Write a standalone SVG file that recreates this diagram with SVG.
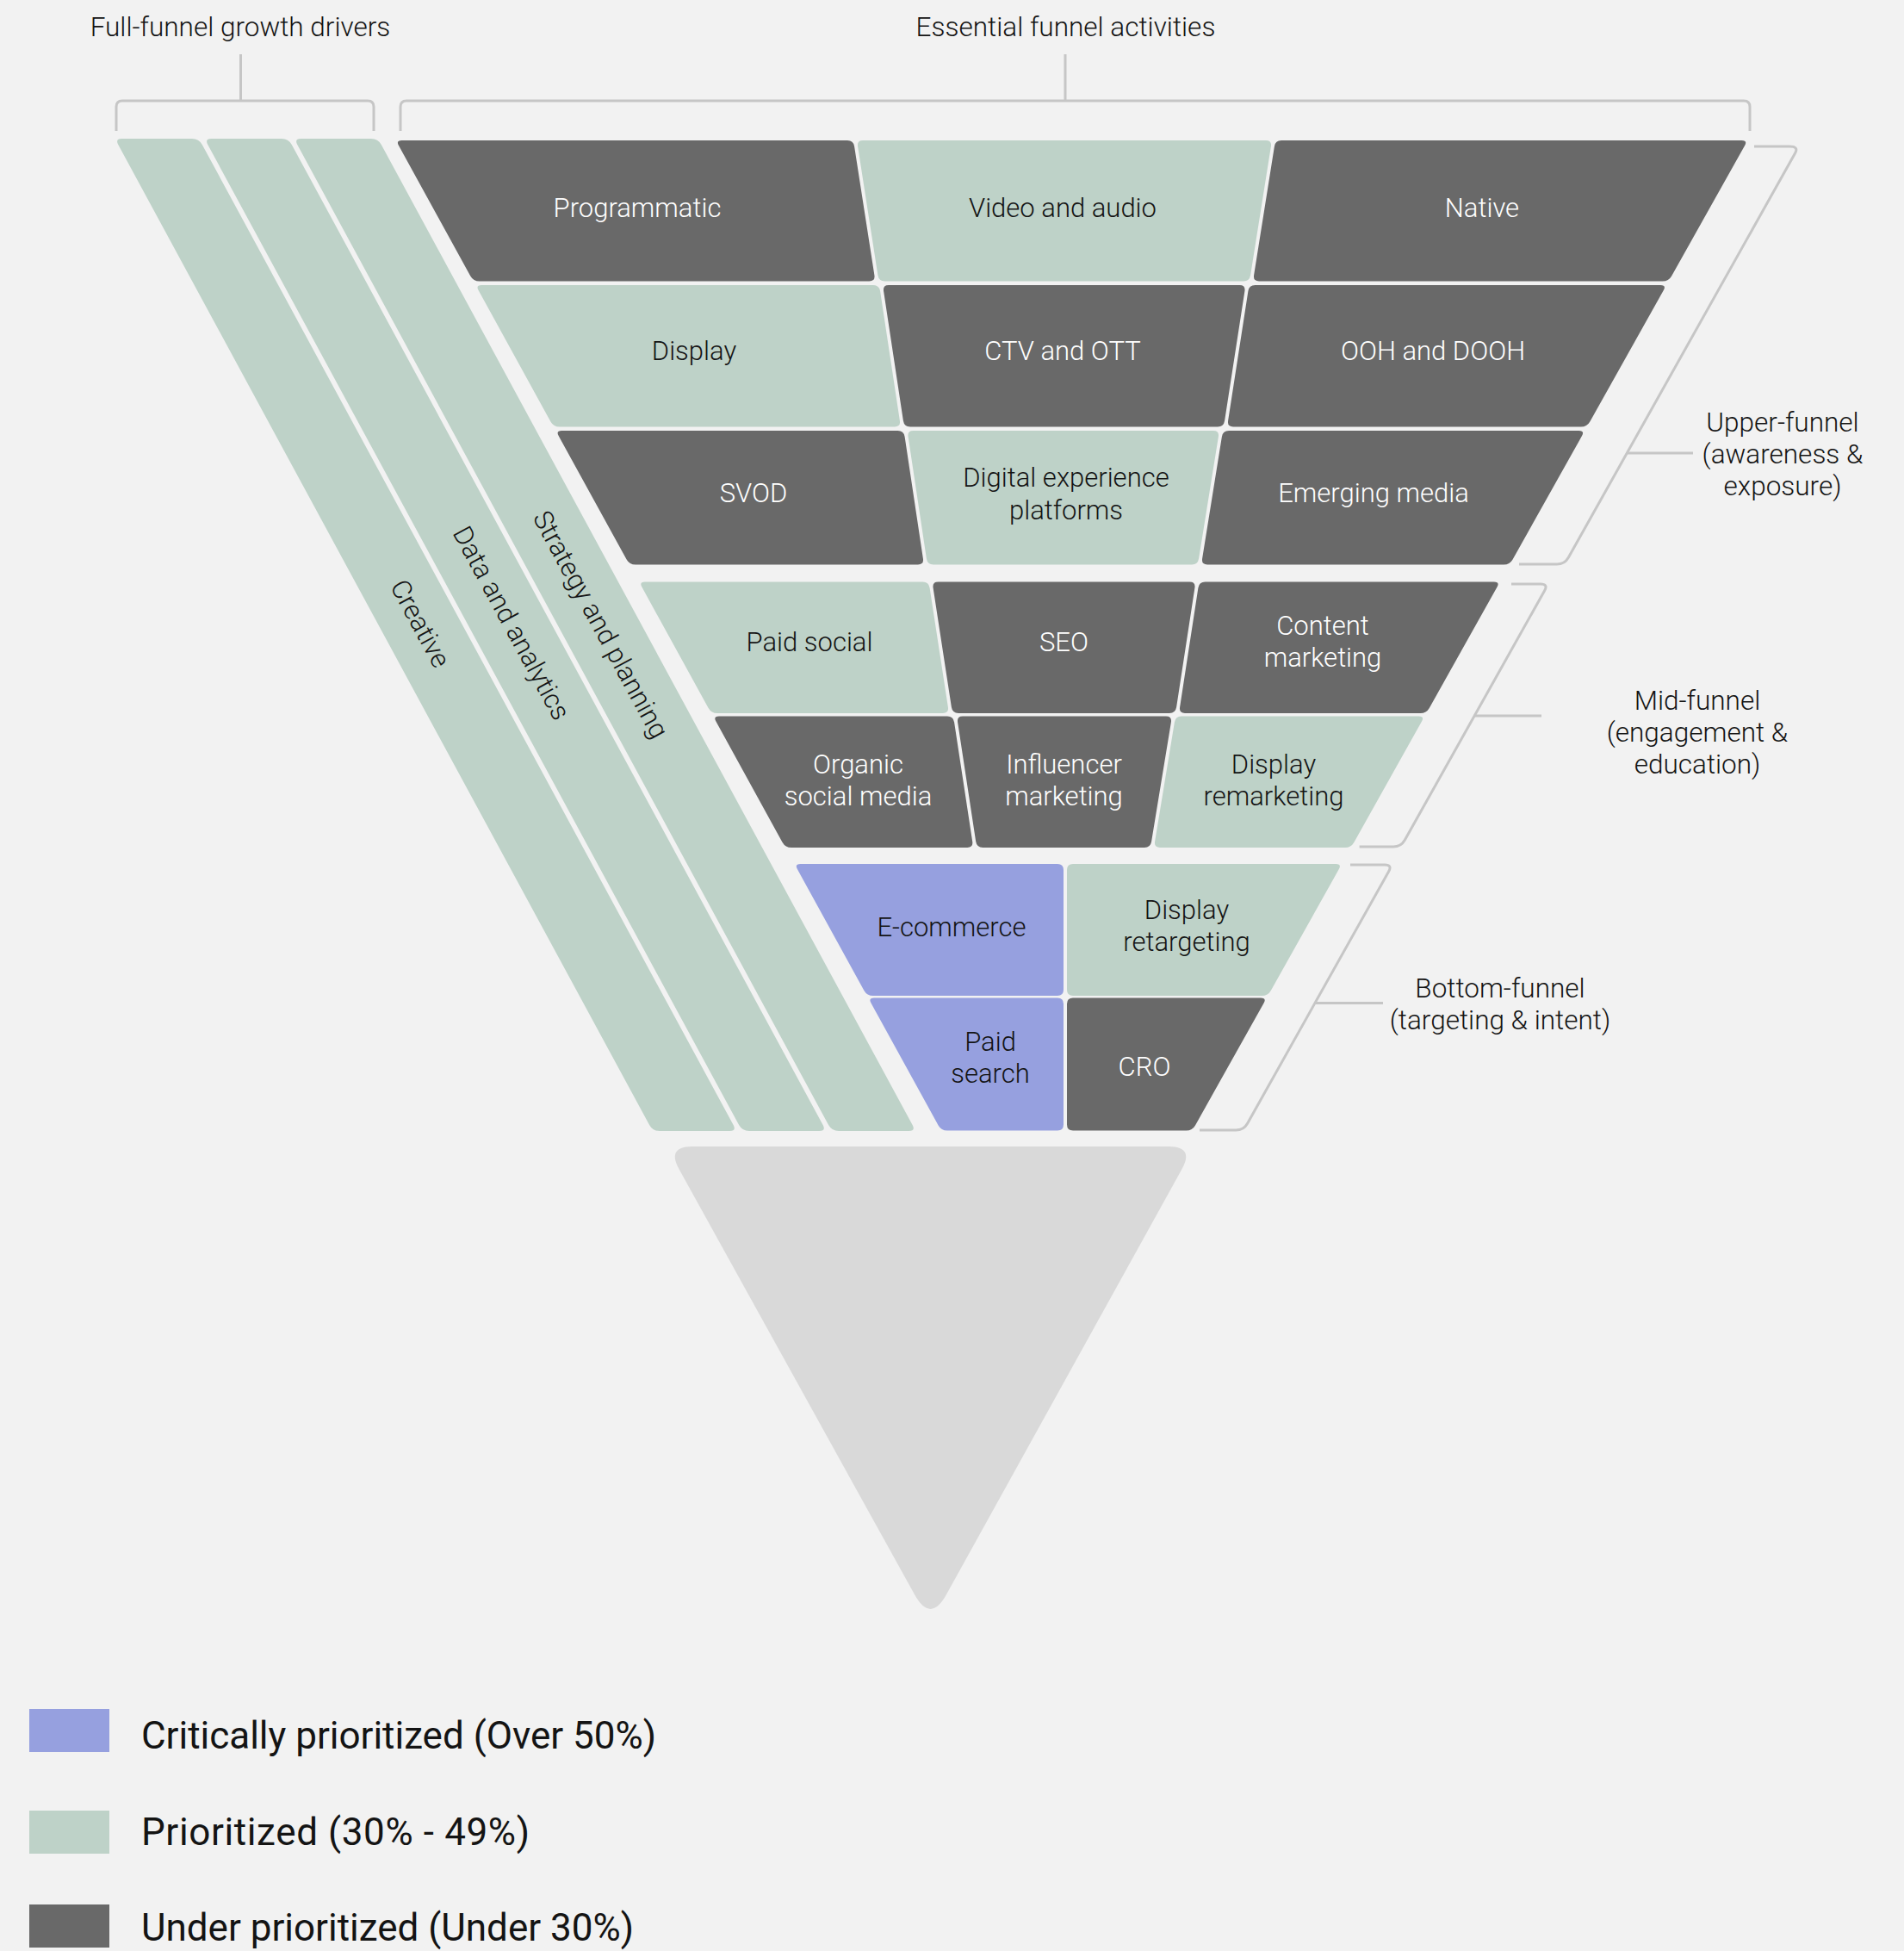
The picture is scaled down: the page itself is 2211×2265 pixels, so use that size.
<svg xmlns="http://www.w3.org/2000/svg" width="2211" height="2265" viewBox="0 0 2211 2265">
<style>
.bg{fill:#f2f2f2}
.dark{fill:#696969}
.sage{fill:#bed2c8}
.purple{fill:#96a0df}
.tri{fill:#d9d9d9}
.ln{fill:none;stroke:#c6c6c6;stroke-width:3;stroke-linecap:butt;stroke-linejoin:round}
text{font-family:Roboto,"Liberation Sans",Arial,sans-serif;font-weight:300;text-anchor:middle}
.lw{fill:#ffffff;font-size:31px}
.lb{fill:#141414;font-size:31px}
.hd{fill:#141414;font-size:31.5px}
.sd{fill:#141414;font-size:31.5px}
.lg{fill:#141414;font-size:44px;font-weight:400;text-anchor:start}
</style>
<rect class="bg" x="0" y="0" width="2211" height="2265"/>

<g id="connectors">
  <path class="ln" d="M135 152 V124 Q135 117 142 117 H427 Q434 117 434 124 V152"/>
  <path class="ln" d="M279.5 63 V117"/>
  <path class="ln" d="M465 152 V124 Q465 117 472 117 H2025 Q2032 117 2032 124 V152"/>
  <path class="ln" d="M1237 63 V117"/>
  <path class="ln" d="M2037 170 H2078 Q2089 170 2084.6 177.8 L1821.3 647.2 Q1816.9 655 1807.9 655 H1764"/>
  <path class="ln" d="M1889.3 526 H1966"/>
  <path class="ln" d="M1755 678 H1789 Q1798 678 1793.6 685.8 L1631.3 975.2 Q1626.9 983 1617.9 983 H1578.6"/>
  <path class="ln" d="M1712.2 831 H1790"/>
  <path class="ln" d="M1568 1004 H1608 Q1617 1004 1612.6 1011.8 L1448.6 1304.2 Q1444.2 1312 1435.2 1312 H1393"/>
  <path class="ln" d="M1527 1164.5 H1606"/>
</g>

<g id="header-drivers"><text class="hd" x="279" y="42">Full-funnel growth drivers</text></g>
<g id="header-activities"><text class="hd" x="1237.5" y="42">Essential funnel activities</text></g>

<g id="strip-creative">
  <path class="sage" d="M141.5 161 L223 161 Q231 161 234.8 168 L851.6 1306 Q855.4 1313 847.4 1313 L765.9 1313 Q757.9 1313 754.1 1306 L137.3 168 Q133.5 161 141.5 161 Z"/>
  <text class="lb" transform="translate(488 724) rotate(61.5)" y="10.5">Creative</text>
</g>
<g id="strip-data">
  <path class="sage" d="M245.5 161 L327 161 Q335 161 338.8 168 L955.6 1306 Q959.4 1313 951.4 1313 L869.9 1313 Q861.9 1313 858.1 1306 L241.3 168 Q237.5 161 245.5 161 Z"/>
  <text class="lb" transform="translate(594 723.5) rotate(61.5)" y="10.5">Data and analytics</text>
</g>
<g id="strip-strategy">
  <path class="sage" d="M349.5 161 L431 161 Q439 161 442.8 168 L1059.6 1306 Q1063.4 1313 1055.4 1313 L973.9 1313 Q965.9 1313 962.1 1306 L345.3 168 Q341.5 161 349.5 161 Z"/>
  <text class="lb" transform="translate(697.5 725) rotate(61.5)" y="10.5">Strategy and planning</text>
</g>

<g id="programmatic">
  <path class="dark" d="M466.6 163 L984 163 Q991 163 992.1 169.9 L1015.4 319.6 Q1016.5 326.5 1009.5 326.5 L556.7 326.5 Q549.7 326.5 546.3 320.4 L463 169.1 Q459.6 163 466.6 163 Z"/>
  <text class="lw" x="740" y="252">Programmatic</text>
</g>
<g id="video-audio">
  <path class="sage" d="M1002 163 L1470 163 Q1477 163 1475.9 169.9 L1452.1 319.6 Q1451 326.5 1444 326.5 L1027.5 326.5 Q1020.5 326.5 1019.4 319.6 L996.1 169.9 Q995 163 1002 163 Z"/>
  <text class="lb" x="1234" y="252">Video and audio</text>
</g>
<g id="native">
  <path class="dark" d="M1488 163 L2022.5 163 Q2029.5 163 2026.1 169.1 L1941.1 320.4 Q1937.7 326.5 1930.7 326.5 L1462 326.5 Q1455 326.5 1456.1 319.6 L1479.9 169.9 Q1481 163 1488 163 Z"/>
  <text class="lw" x="1721" y="252">Native</text>
</g>

<g id="display">
  <path class="sage" d="M559.2 331 L1014 331 Q1021 331 1022.1 337.9 L1044.9 488.6 Q1046 495.5 1039 495.5 L649.8 495.5 Q642.8 495.5 639.4 489.4 L555.6 337.1 Q552.2 331 559.2 331 Z"/>
  <text class="lb" x="806" y="417.5">Display</text>
</g>
<g id="ctv-ott">
  <path class="dark" d="M1032 331 L1439.5 331 Q1446.5 331 1445.4 337.9 L1422.1 488.6 Q1421 495.5 1414 495.5 L1057 495.5 Q1050 495.5 1048.9 488.6 L1026.1 337.9 Q1025 331 1032 331 Z"/>
  <text class="lw" x="1234" y="417.5">CTV and OTT</text>
</g>
<g id="ooh-dooh">
  <path class="dark" d="M1457.5 331 L1928.2 331 Q1935.2 331 1931.8 337.1 L1846.3 489.4 Q1842.9 495.5 1835.9 495.5 L1432 495.5 Q1425 495.5 1426.1 488.6 L1449.4 337.9 Q1450.5 331 1457.5 331 Z"/>
  <text class="lw" x="1664" y="417.5">OOH and DOOH</text>
</g>

<g id="svod">
  <path class="dark" d="M652.3 500 L1042.5 500 Q1049.5 500 1050.6 506.9 L1071.9 648.6 Q1073 655.5 1066 655.5 L738 655.5 Q731 655.5 727.6 649.4 L648.7 506.1 Q645.3 500 652.3 500 Z"/>
  <text class="lw" x="875" y="583">SVOD</text>
</g>
<g id="dxp">
  <path class="sage" d="M1060.5 500 L1409 500 Q1416 500 1414.9 506.9 L1392.1 648.6 Q1391 655.5 1384 655.5 L1084 655.5 Q1077 655.5 1075.9 648.6 L1054.6 506.9 Q1053.5 500 1060.5 500 Z"/>
  <text class="lb" x="1238" y="565">Digital experience</text>
  <text class="lb" x="1238" y="602.5">platforms</text>
</g>
<g id="emerging-media">
  <path class="dark" d="M1427 500 L1833.4 500 Q1840.4 500 1837 506.1 L1756.6 649.4 Q1753.2 655.5 1746.2 655.5 L1402 655.5 Q1395 655.5 1396.1 648.6 L1418.9 506.9 Q1420 500 1427 500 Z"/>
  <text class="lw" x="1595" y="583">Emerging media</text>
</g>

<g id="paid-social">
  <path class="sage" d="M749 675.5 L1071.5 675.5 Q1078.5 675.5 1079.6 682.4 L1100.9 821.1 Q1102 828 1095 828 L833 828 Q826 828 822.6 821.9 L745.4 681.6 Q742 675.5 749 675.5 Z"/>
  <text class="lb" x="940" y="755.5">Paid social</text>
</g>
<g id="seo">
  <path class="dark" d="M1089.5 675.5 L1381.5 675.5 Q1388.5 675.5 1387.4 682.4 L1366.1 821.1 Q1365 828 1358 828 L1113 828 Q1106 828 1104.9 821.1 L1083.6 682.4 Q1082.5 675.5 1089.5 675.5 Z"/>
  <text class="lw" x="1235.5" y="755.5">SEO</text>
</g>
<g id="content-marketing">
  <path class="dark" d="M1399.5 675.5 L1734.9 675.5 Q1741.9 675.5 1738.5 681.6 L1659.8 821.9 Q1656.4 828 1649.4 828 L1376 828 Q1369 828 1370.1 821.1 L1391.4 682.4 Q1392.5 675.5 1399.5 675.5 Z"/>
  <text class="lw" x="1536" y="736.5">Content</text>
  <text class="lw" x="1536" y="773.5">marketing</text>
</g>

<g id="organic-social">
  <path class="dark" d="M835 831.5 L1100 831.5 Q1107 831.5 1108.1 838.4 L1129.2 977.1 Q1130.3 984 1123.3 984 L919 984 Q912 984 908.6 977.9 L831.4 837.6 Q828 831.5 835 831.5 Z"/>
  <text class="lw" x="996.5" y="897.5">Organic</text>
  <text class="lw" x="996.5" y="934.5">social media</text>
</g>
<g id="influencer-marketing">
  <path class="dark" d="M1118 831.5 L1354 831.5 Q1361 831.5 1359.9 838.4 L1337.1 977.1 Q1336 984 1329 984 L1141.3 984 Q1134.3 984 1133.2 977.1 L1112.1 838.4 Q1111 831.5 1118 831.5 Z"/>
  <text class="lw" x="1235.5" y="897.5">Influencer</text>
  <text class="lw" x="1235.5" y="934.5">marketing</text>
</g>
<g id="display-remarketing">
  <path class="sage" d="M1372 831.5 L1647.4 831.5 Q1654.4 831.5 1651 837.6 L1572.3 977.9 Q1568.9 984 1561.9 984 L1347 984 Q1340 984 1341.1 977.1 L1363.9 838.4 Q1365 831.5 1372 831.5 Z"/>
  <text class="lb" x="1479" y="897.5">Display</text>
  <text class="lb" x="1479" y="934.5">remarketing</text>
</g>

<g id="e-commerce">
  <path class="purple" d="M929.5 1003 L1228 1003 Q1235 1003 1235 1010 L1235 1149 Q1235 1156 1228 1156 L1013.8 1156 Q1006.8 1156 1003.4 1149.9 L925.9 1009.1 Q922.5 1003 929.5 1003 Z"/>
  <text class="lb" x="1105" y="1086.5">E-commerce</text>
</g>
<g id="display-retargeting">
  <path class="sage" d="M1246 1003 L1551.2 1003 Q1558.2 1003 1554.8 1009.1 L1475.8 1149.9 Q1472.4 1156 1465.4 1156 L1246 1156 Q1239 1156 1239 1149 L1239 1010 Q1239 1003 1246 1003 Z"/>
  <text class="lb" x="1378" y="1067">Display</text>
  <text class="lb" x="1378" y="1104">retargeting</text>
</g>

<g id="paid-search">
  <path class="purple" d="M1015.1 1158.5 L1228 1158.5 Q1235 1158.5 1235 1165.5 L1235 1305.5 Q1235 1312.5 1228 1312.5 L1100 1312.5 Q1093 1312.5 1089.6 1306.4 L1011.5 1164.6 Q1008.1 1158.5 1015.1 1158.5 Z"/>
  <text class="lb" x="1150" y="1219.5">Paid</text>
  <text class="lb" x="1150" y="1256.5">search</text>
</g>
<g id="cro">
  <path class="dark" d="M1246 1158.5 L1464 1158.5 Q1471 1158.5 1467.6 1164.6 L1388 1306.4 Q1384.6 1312.5 1377.6 1312.5 L1246 1312.5 Q1239 1312.5 1239 1305.5 L1239 1165.5 Q1239 1158.5 1246 1158.5 Z"/>
  <text class="lw" x="1329" y="1249">CRO</text>
</g>

<g id="upper-funnel-label">
  <text class="sd" x="2070" y="501">Upper-funnel</text>
  <text class="sd" x="2070" y="538">(awareness &amp;</text>
  <text class="sd" x="2070" y="575">exposure)</text>
</g>
<g id="mid-funnel-label">
  <text class="sd" x="1971" y="823.5">Mid-funnel</text>
  <text class="sd" x="1971" y="860.5">(engagement &amp;</text>
  <text class="sd" x="1971" y="897.5">education)</text>
</g>
<g id="bottom-funnel-label">
  <text class="sd" x="1742" y="1157.5">Bottom-funnel</text>
  <text class="sd" x="1742" y="1194.5">(targeting &amp; intent)</text>
</g>

<g id="base-triangle">
  <path class="tri" d="M804 1331 L1357 1331 Q1387 1331 1372.5 1357.3 L1098.9 1851.3 Q1080.5 1884.5 1062.1 1851.3 L788.5 1357.3 Q774 1331 804 1331 Z"/>
</g>

<g id="legend-critical">
  <rect class="purple" x="34" y="1984" width="93" height="50"/>
  <text class="lg" x="164" y="2030" textLength="598" lengthAdjust="spacing">Critically prioritized (Over 50%)</text>
</g>
<g id="legend-prioritized">
  <rect class="sage" x="34" y="2102" width="93" height="50"/>
  <text class="lg" x="164" y="2141.5" textLength="451" lengthAdjust="spacing">Prioritized (30% - 49%)</text>
</g>
<g id="legend-under">
  <rect class="dark" x="34" y="2211" width="93" height="50"/>
  <text class="lg" x="164" y="2253" textLength="572" lengthAdjust="spacing">Under prioritized (Under 30%)</text>
</g>
</svg>
